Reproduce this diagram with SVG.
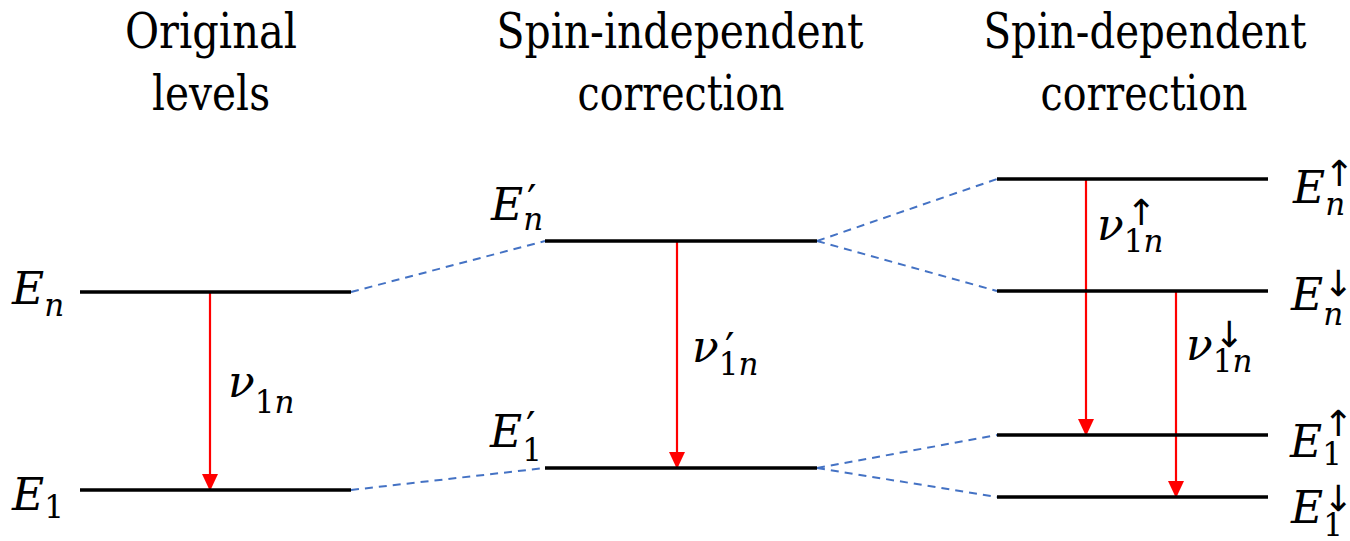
<svg xmlns="http://www.w3.org/2000/svg" width="1350" height="541" viewBox="0 0 1350 541">
<style>
.title{font-family:'DejaVu Serif',serif;font-size:48px;fill:#000;text-anchor:middle}
.m{font-family:'DejaVu Serif',serif;font-size:44px;font-style:italic;fill:#000}
.s{font-size:31px}
.u{font-style:normal}
.pr{font-family:'DejaVu Serif',serif;font-style:normal;font-size:42px;fill:#000}
.ar{font-family:'DejaVu Sans',sans-serif;font-style:normal;font-size:36px;fill:#000}
.lvl{stroke:#000;stroke-width:3.5;fill:none}
.dash{stroke:#4472C4;stroke-width:2;stroke-dasharray:8 6;fill:none}
.tr{stroke:#FF0000;stroke-width:2.2;fill:none;marker-end:url(#ah)}
</style>
<defs>
<marker id="ah" markerUnits="userSpaceOnUse" markerWidth="18" markerHeight="18" viewBox="0 0 18 18" refX="17" refY="9" orient="auto">
<path d="M0,1 L17,9 L0,17 Z" fill="#FF0000"/>
</marker>
</defs>
<rect width="1350" height="541" fill="#fff"/>
<g id="titles">
<text class="title" x="211" y="48" textLength="172" lengthAdjust="spacingAndGlyphs">Original</text>
<text class="title" x="211" y="110" textLength="118" lengthAdjust="spacingAndGlyphs">levels</text>
<text class="title" x="680" y="48" textLength="367" lengthAdjust="spacingAndGlyphs">Spin-independent</text>
<text class="title" x="681" y="110" textLength="207" lengthAdjust="spacingAndGlyphs">correction</text>
<text class="title" x="1145" y="48" textLength="323" lengthAdjust="spacingAndGlyphs">Spin-dependent</text>
<text class="title" x="1144" y="110" textLength="207" lengthAdjust="spacingAndGlyphs">correction</text>
</g>
<g id="connectors">
<line class="dash" x1="351" y1="292" x2="545" y2="241"/>
<line class="dash" x1="351" y1="490" x2="545" y2="468"/>
<line class="dash" x1="817" y1="241" x2="997" y2="179"/>
<line class="dash" x1="817" y1="241" x2="997" y2="291"/>
<line class="dash" x1="817" y1="468" x2="997" y2="435"/>
<line class="dash" x1="817" y1="468" x2="997" y2="497"/>
<line class="tr" x1="210" y1="293" x2="210" y2="491"/>
<line class="tr" x1="677" y1="242" x2="677" y2="469"/>
<line class="tr" x1="1086" y1="180" x2="1086" y2="436"/>
<line class="tr" x1="1176" y1="292" x2="1176" y2="498"/>
</g>
<g id="level-En">
<line class="lvl" x1="80" y1="292" x2="351" y2="292"/>
<text class="m" x="12" y="304">E<tspan class="s" dy="12">n</tspan></text>
</g>
<g id="level-E1">
<line class="lvl" x1="80" y1="490" x2="351" y2="490"/>
<text class="m" x="12" y="510">E<tspan class="s u" dy="8">1</tspan></text>
</g>
<g id="label-nu1n">
<text class="m" x="228" y="397">ν<tspan class="s u" dy="16">1</tspan><tspan class="s">n</tspan></text>
</g>
<g id="level-Enp">
<line class="lvl" x1="545" y1="241" x2="817" y2="241"/>
<text class="m" x="491" y="220">E<tspan class="s" dy="10">n</tspan></text>
<text class="pr" x="527" y="215">′</text>
</g>
<g id="level-E1p">
<line class="lvl" x1="545" y1="468" x2="817" y2="468"/>
<text class="m" x="490" y="447">E<tspan class="s u" dy="14">1</tspan></text>
<text class="pr" x="526" y="442">′</text>
</g>
<g id="label-nu1np">
<text class="m" x="692" y="362">ν<tspan class="s u" dy="13">1</tspan><tspan class="s">n</tspan></text>
<text class="pr" x="725" y="363">′</text>
</g>
<g id="level-En-up">
<line class="lvl" x1="997" y1="179" x2="1268" y2="179"/>
<text class="m" x="1293" y="203">E<tspan class="s" dy="12">n</tspan></text>
<text class="ar" x="1324" y="186">↑</text>
</g>
<g id="level-En-down">
<line class="lvl" x1="997" y1="291" x2="1268" y2="291"/>
<text class="m" x="1291" y="310">E<tspan class="s" dy="15">n</tspan></text>
<text class="ar" x="1323" y="296">↓</text>
</g>
<g id="level-E1-up">
<line class="lvl" x1="997" y1="435" x2="1268" y2="435"/>
<text class="m" x="1290" y="457">E<tspan class="s u" dy="8">1</tspan></text>
<text class="ar" x="1323" y="436">↑</text>
</g>
<g id="level-E1-down">
<line class="lvl" x1="997" y1="497" x2="1268" y2="497"/>
<text class="m" x="1291" y="523">E<tspan class="s u" dy="13">1</tspan></text>
<text class="ar" x="1323" y="511">↓</text>
</g>
<g id="label-nu-up">
<text class="m" x="1097" y="240">ν<tspan class="s u" dy="12">1</tspan><tspan class="s">n</tspan></text>
<text class="ar" x="1126" y="225">↑</text>
</g>
<g id="label-nu-down">
<text class="m" x="1186" y="360">ν<tspan class="s u" dy="12">1</tspan><tspan class="s">n</tspan></text>
<text class="ar" x="1214" y="347">↓</text>
</g>
</svg>
